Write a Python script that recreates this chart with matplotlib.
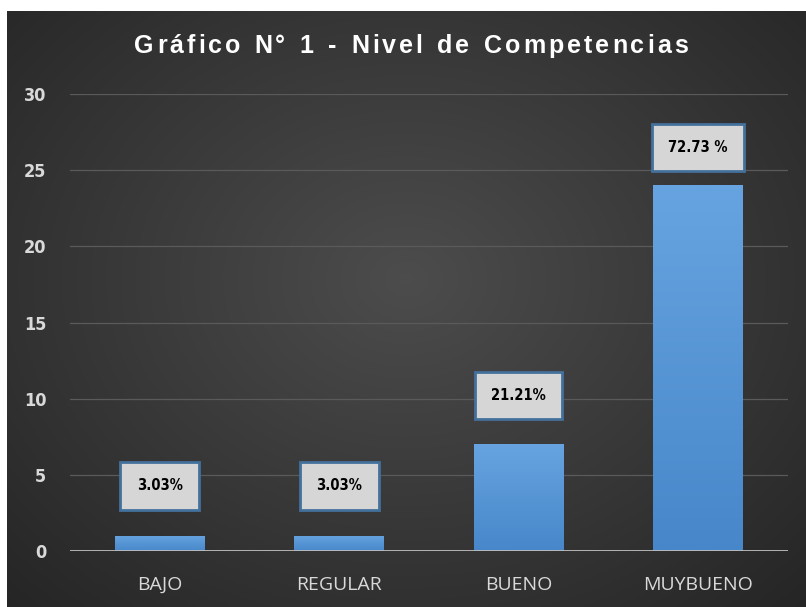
import numpy as np
import matplotlib.pyplot as plt

categories = ['BAJO', 'REGULAR', 'BUENO', 'MUYBUENO']
values = [1, 1, 7, 24]
pct_labels = ['3.03%', '3.03%', '21.21%', '72.73 %']
yticks = [0, 5, 10, 15, 20, 25, 30]
title = 'Gráfico N° 1 - Nivel de Competencias'

W, H = 806, 607
fig = plt.figure(figsize=(W / 100, H / 100), dpi=100)
fig.patch.set_facecolor('white')

# dark radial background, white strip top/left
bg = fig.add_axes([7 / W, 0, 1 - 7 / W, 1 - 11 / H])
bg.set_axis_off()
yy, xx = np.mgrid[0:1:300j, 0:1:400j]
r = np.sqrt(((xx - 0.5) / 0.75) ** 2 + ((yy - 0.45) / 0.8) ** 2)
shade = np.clip(0.30 - 0.16 * r, 0.14, 0.30)
img = np.dstack([shade, shade, shade])
bg.imshow(img, aspect='auto', extent=[0, 1, 0, 1], interpolation='bicubic')

ax = fig.add_axes([70 / W, 56 / H, 718 / W, 457 / H])
ax.patch.set_alpha(0)
x = np.arange(len(categories))
bars = ax.bar(x, values, width=0.5, color='#5b9bd5', zorder=3)

# vertical gradient on each bar
grad = np.linspace(0, 1, 100).reshape(-1, 1)
top_c = np.array([0.40, 0.64, 0.88])
bot_c = np.array([0.28, 0.53, 0.79])
gimg = (bot_c + (top_c - bot_c) * grad).reshape(100, 1, 3)
for b in bars:
    x0, w, h = b.get_x(), b.get_width(), b.get_height()
    b.set_facecolor('none')
    im = ax.imshow(gimg, extent=[x0, x0 + w, 0, h], origin='lower',
                   aspect='auto', zorder=3)
    im.set_clip_path(b)

ax.set_xlim(-0.5, len(categories) - 0.5)
ax.set_ylim(0, 30)
ax.set_yticks(yticks)
ax.yaxis.grid(True, color='#5a5a5a', linewidth=0.9, zorder=0)
ax.axhline(0, color='#bfbfbf', linewidth=2, zorder=4)
for s in ax.spines.values():
    s.set_visible(False)
ax.tick_params(length=0)
ax.tick_params(axis='y', pad=17, labelcolor='#d9d9d9', labelsize=13)
ax.tick_params(axis='x', pad=18, labelcolor='#d9d9d9', labelsize=14)
for t in ax.get_yticklabels():
    t.set_fontweight('bold')
    t.set_fontstretch('condensed')
ax.set_xticks(x)
ax.set_xticklabels(categories, fontfamily=['Open Sans', 'DejaVu Sans'],
                   fontstretch='semi-condensed')

offsets = [50, 50, 49, 38]
for xi, v, lab, off in zip(x, values, pct_labels, offsets):
    ax.annotate(lab, (xi, v), xytext=(0, off), textcoords='offset pixels',
                ha='center', va='center', fontsize=10.5, fontweight='bold',
                fontstretch='condensed', color='black', zorder=6,
                bbox=dict(boxstyle='square,pad=1.12', fc='#d6d6d6',
                          ec='#44719c', lw=2))

# letter-spaced title, placed char by char
renderer = fig.canvas.get_renderer()
tkw = dict(color='white', fontsize=18, fontweight='bold',
           fontfamily=['Liberation Sans', 'DejaVu Sans'], va='center', ha='left')
spacing = 3.0
widths = []
for ch in title:
    t = fig.text(0, 0, ch if ch != ' ' else 'n', **tkw)
    wpx = t.get_window_extent(renderer).width
    if ch == ' ':
        wpx *= 0.55
    widths.append(wpx)
    t.remove()
total = sum(widths) + spacing * (len(title) - 1)
xpos = 411 - total / 2
ty = 1 - 46 / H
for ch, wpx in zip(title, widths):
    if ch != ' ':
        fig.text(xpos / W, ty, ch, **tkw)
    xpos += wpx + spacing

fig.savefig('out.png', dpi=100)
